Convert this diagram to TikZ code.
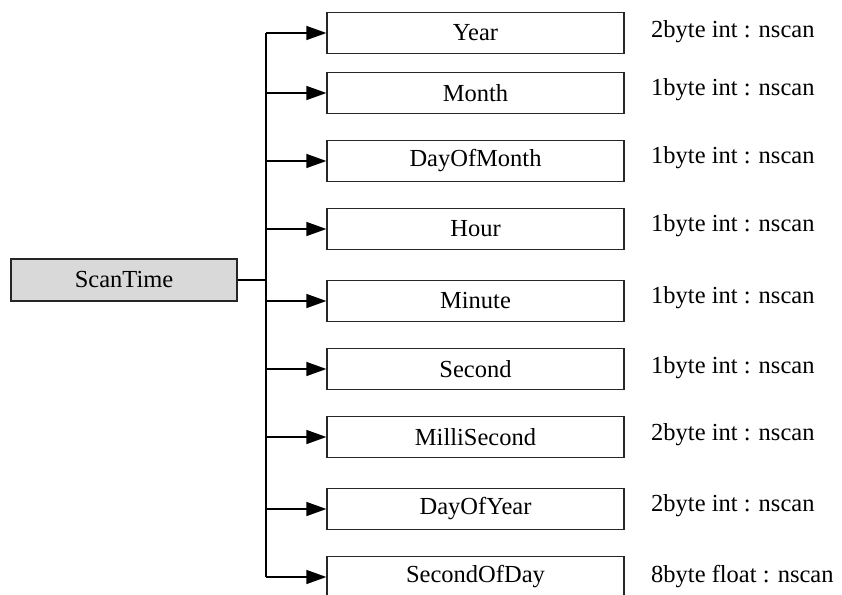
\documentclass[tikz,border=0pt]{standalone}
\usepackage{fontspec}
\setmainfont{Liberation Serif}
\usetikzlibrary{arrows.meta}
\begin{document}
\begin{tikzpicture}[x=1pt,y=-1pt,
  txt/.style={font=\fontsize{24.5}{28}\selectfont},
  fieldbox/.style={draw=black!85,line width=1.3pt,minimum width=297pt,minimum height=41pt,inner sep=0pt,txt},
  rootbox/.style={draw=black!85,fill=black!15,line width=1.3pt,minimum width=226pt,minimum height=42pt,inner sep=0pt,txt},
  lbl/.style={anchor=west,inner sep=0pt,txt},
  link/.style={line width=1.4pt},
  arr/.style={line width=1.4pt,-{Triangle[length=20pt,width=14pt]}}]
\useasboundingbox (0,0) rectangle (842,594);
\clip (0,0) rectangle (842,594);
\node[rootbox] (scan) at (124,280) {ScanTime};
\node[fieldbox] (year) at (475.5,33) {Year};
\node[fieldbox] (month) at (475.5,93) {Month};
\node[fieldbox] (dom) at (475.5,161) {DayOfMonth};
\node[fieldbox] (hour) at (475.5,229) {Hour};
\node[fieldbox] (minute) at (475.5,301) {Minute};
\node[fieldbox] (second) at (475.5,369) {Second};
\node[fieldbox] (milli) at (475.5,437) {MilliSecond};
\node[fieldbox] (doy) at (475.5,509) {DayOfYear};
\node[fieldbox] (sod) at (475.5,577) {SecondOfDay};
\node[lbl] (lyear) at (651,32) {2byte int : nscan};
\node[lbl] (lmonth) at (651,90) {1byte int : nscan};
\node[lbl] (ldom) at (651,158) {1byte int : nscan};
\node[lbl] (lhour) at (651,226) {1byte int : nscan};
\node[lbl] (lminute) at (651,298) {1byte int : nscan};
\node[lbl] (lsecond) at (651,368) {1byte int : nscan};
\node[lbl] (lmilli) at (651,435) {2byte int : nscan};
\node[lbl] (ldoy) at (651,506) {2byte int : nscan};
\node[lbl] (lsod) at (651,577) {8byte float : nscan};
\coordinate (trunk) at (266,280);
\coordinate (ttop) at (trunk |- year.west);
\coordinate (tbot) at (trunk |- sod.west);
\draw[link] (scan.east) -- (trunk);
\draw[link] (ttop) -- (tbot);
\foreach \n in {year,month,dom,hour,minute,second,milli,doy,sod}
  \draw[arr] (trunk |- \n.west) -- (\n.west);
\end{tikzpicture}
\end{document}
